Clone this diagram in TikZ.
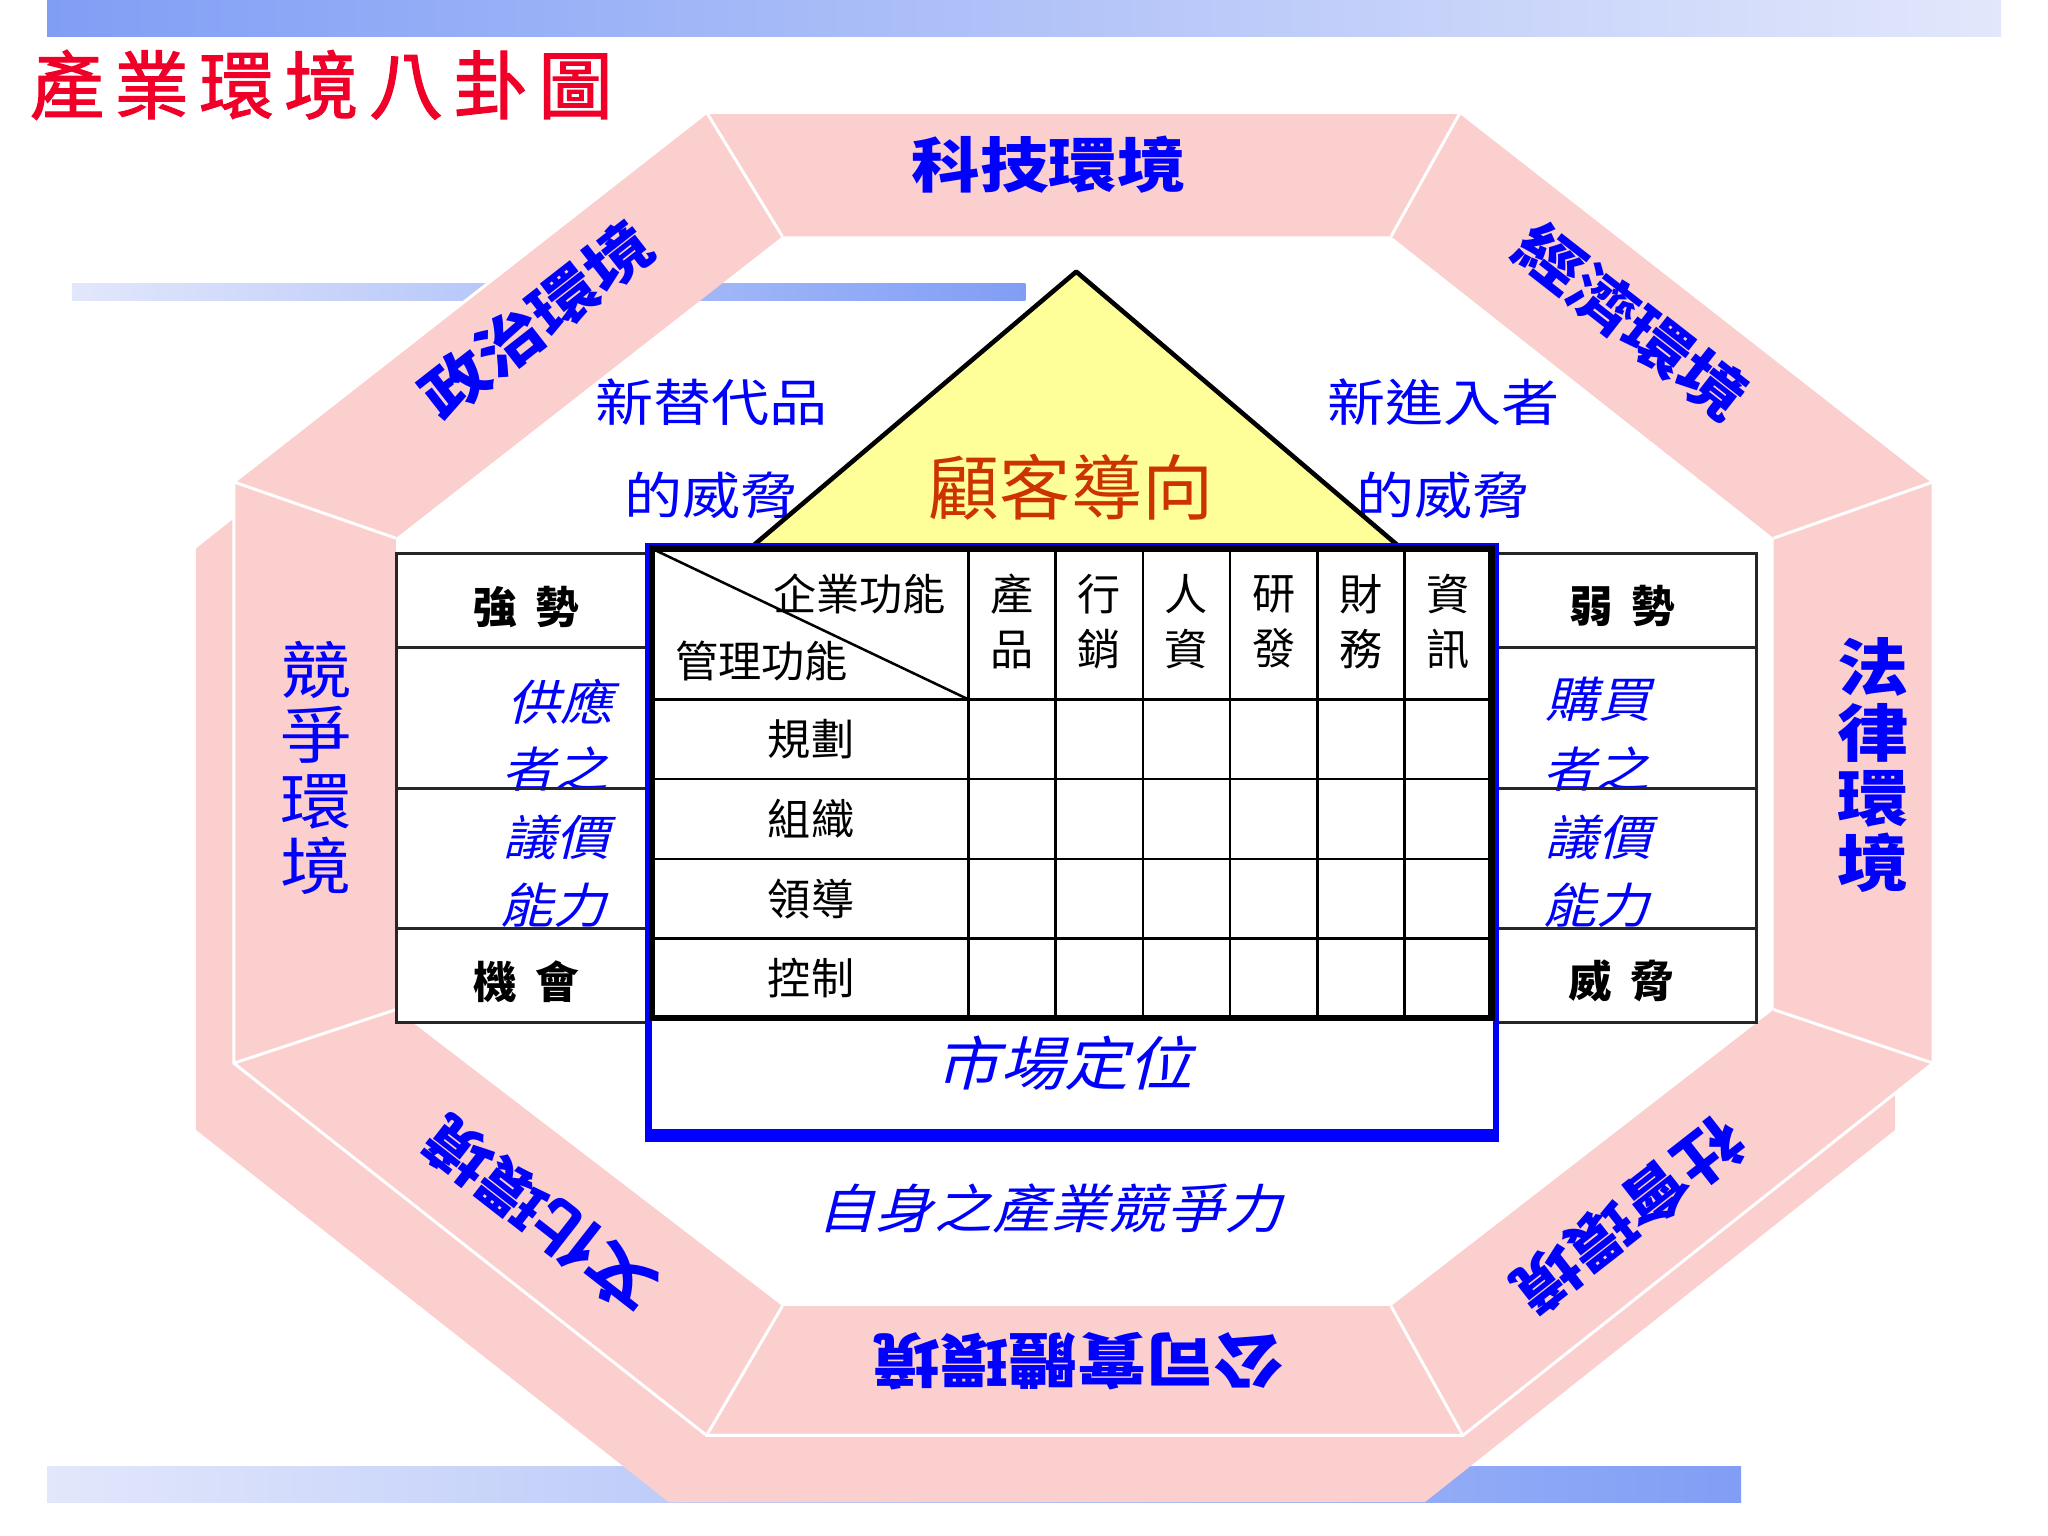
\documentclass[tikz,border=0pt]{standalone}
\usepackage{fontspec}
\setmainfont{Noto Sans CJK TC}
\newfontfamily\widefont[FakeStretch=1.15]{Noto Sans CJK TC}
\newfontfamily\slantfont[FakeSlant=0.25,FakeStretch=1.1]{Noto Sans CJK TC}
\newfontfamily\titlefont[LetterSpace=14,FakeBold=1.6]{Noto Sans CJK TC}
\usetikzlibrary{calc}

\definecolor{segpink}{RGB}{252,207,207}
\definecolor{segblue}{RGB}{0,0,255}
\definecolor{barblue}{RGB}{128,158,245}
\definecolor{barpale}{RGB}{226,231,251}
\definecolor{roofyellow}{RGB}{255,255,153}
\definecolor{titlered}{RGB}{240,0,40}
\definecolor{roofred}{RGB}{204,51,0}

\tikzset{
  seglabel/.style={inner sep=0pt, text=segblue, font=\widefont\bfseries\fontsize{26}{26}\selectfont},
  segcolumn/.style={inner sep=0pt, text=segblue, align=center, font=\widefont\bfseries\fontsize{27}{28.5}\selectfont},
  threat/.style={inner sep=0pt, text=segblue, font=\widefont\fontsize{22}{22}\selectfont},
  cell/.style={inner sep=0pt, align=center, font=\fontsize{18.8}{23.9}\selectfont},
  swot/.style={inner sep=0pt, font=\bfseries\fontsize{19}{19}\selectfont},
  bargain/.style={inner sep=0pt, text=segblue, font=\slantfont\fontsize{21}{21}\selectfont},
  slanted/.style={inner sep=0pt, text=segblue, font=\slantfont\fontsize{25.5}{25.5}\selectfont},
  sepline/.style={white, line width=1.3pt, line join=round},
  gridline/.style={black, line width=1.1pt},
  tableframe/.style={black, line width=2.8pt},
  sideline/.style={black!85, line width=1.3pt},
  roofline/.style={black, line width=2pt, line join=round},
  frameline/.style={segblue, line width=2.8pt}
}

\begin{document}
\begin{tikzpicture}[x=0.02cm, y=-0.02cm]
    \useasboundingbox (0,0) rectangle (1568,1176);

    % bars behind everything
    \shade [left color=barblue, right color=barpale] (36,0) rectangle (1532,28);
    \shade [left color=barpale, right color=barblue] (55,217) rectangle (785,230);
    \shade [left color=barpale, right color=barblue] (36,1123) rectangle (1333,1150);

    \node (title) at (246,65) [inner sep=0pt, text=titlered, font=\titlefont\fontsize{32.4}{32.4}\selectfont] {產業環境八卦圖};

    % octagon, front face
    \coordinate (o1) at (541,86);
    \coordinate (o2) at (1118,86);
    \coordinate (o3) at (1480,369);
    \coordinate (o4) at (1480,814);
    \coordinate (o5) at (1120,1099);
    \coordinate (o6) at (541,1099);
    \coordinate (o7) at (179,814);
    \coordinate (o8) at (179,369);
    \coordinate (i1) at (599,181);
    \coordinate (i2) at (1065,181);
    \coordinate (i3) at (1358,412);
    \coordinate (i4) at (1358,773);
    \coordinate (i5) at (1065,1000);
    \coordinate (i6) at (599,1000);
    \coordinate (i7) at (303,773);
    \coordinate (i8) at (303,412);

    % ring with its depth on the lower left
    \fill [segpink, even odd rule] (o1) -- (o2) -- (o3) -- (o4) -- (1451,837) -- (1451,865)
        -- (1091,1150) -- (512,1150) -- (150,865) -- (150,420) -- (179,397) -- (o8) -- cycle
        (i1) -- (i2) -- (i3) -- (i4) -- (i5) -- (i6) -- (i7) -- (i8) -- cycle;
    \draw [sepline] (o1) -- (o2) -- (o3) -- (o4) -- (o5) -- (o6) -- (o7) -- (o8) -- cycle;
    \foreach \k in {1,...,8}
        \draw [sepline] (o\k) -- (i\k);

    \node (tech) at (803,126) [seglabel] {科技環境};
    \node (econ) at (1249,246) [seglabel, rotate=-38] {經濟環境};
    \node (law) at (1434,586) [segcolumn] {法\\律\\環\\境};
    \node (social) at (1247,931) [seglabel, rotate=218] {社會環境};
    \node (corp) at (825,1042) [seglabel, rotate=180] {公司實體環境};
    \node (culture) at (413,930) [seglabel, rotate=142] {文化環境};
    \node (compete) at (242,588) [segcolumn, font=\widefont\fontsize{27}{28.5}\selectfont] {競\\爭\\環\\境};
    \node (politics) at (411,245) [seglabel, rotate=38] {政治環境};

    \node (subst) at (545,308) [threat] {新替代品};
    \node (substb) at (545,379) [threat] {的威脅};
    \node (entrant) at (1105,308) [threat] {新進入者};
    \node (entrantb) at (1105,379) [threat] {的威脅};

    % roof
    \coordinate (apex) at (824,208);
    \coordinate (eavel) at (574,420);
    \coordinate (eaver) at (1073,420);
    \fill [roofyellow] (eavel) -- (apex) -- (eaver) -- cycle;
    \draw [roofline] (eavel) -- (apex) -- (eaver);
    \node (custorient) at (820,373) [inner sep=0pt, text=roofred, font=\fontsize{31}{31}\selectfont] {顧客導向};

    % SWOT side tables
    \fill [white] (303.6,424) rectangle (497,783);
    \fill [white] (1145,424) rectangle (1344.5,783);
    \node (strength) at (403,465) [swot] {強\hspace{0.42em}勢};
    \node (chance) at (403,752) [swot] {機\hspace{0.42em}會};
    \node (weakness) at (1242,464) [swot] {弱\hspace{0.42em}勢};
    \node (threat) at (1241,751) [swot] {威\hspace{0.42em}脅};
    \node (supa) at (429,537) [bargain] {供應};
    \node (supb) at (425,589) [bargain] {者之};
    \node (supc) at (426,641) [bargain] {議價};
    \node (supd) at (424,693) [bargain] {能力};
    \node (buya) at (1224,535) [bargain] {購買};
    \node (buyb) at (1222,589) [bargain] {者之};
    \node (buyc) at (1224,641) [bargain] {議價};
    \node (buyd) at (1222,693) [bargain] {能力};
    \draw [sideline] (303.6,424) rectangle (497,783);
    \draw [sideline] (1145,424) rectangle (1344.5,783);
    \foreach \y in {496,604,711} {
        \draw [sideline] (303.6,\y) -- (497,\y);
        \draw [sideline] (1145,\y) -- (1344.5,\y);
    }

    % blue frame round the table
    \fill [white] (496.5,418) rectangle (1145.5,867);
    \draw [frameline] (496.5,418) rectangle (1145.5,867);
    \fill [segblue] (494,864) rectangle (1148,874);
    \node (market) at (815,814) [slanted] {市場定位};

    % function table
    \coordinate (tabnw) at (499,420);
    \coordinate (hdrse) at (741.5,535.5);
    \foreach \i in {0,...,5}
        \draw [gridline] ({741.5+\i*66.75},420) -- ({741.5+\i*66.75},779.5);
    \foreach \j in {0,...,3}
        \draw [gridline] (499,{535.5+\j*61}) -- (1142,{535.5+\j*61});
    \draw [gridline] (tabnw) -- (hdrse);
    \draw [tableframe] (tabnw) rectangle (1142,779.5);

    \node (bizfunc) at (658,455) [cell] {企業功能};
    \node (mgtfunc) at (583,506) [cell] {管理功能};
    \foreach \a/\b [count=\k] in {產/品,行/銷,人/資,研/發,財/務,資/訊}
        \node (colhead\k) at ({741.5+(\k-0.5)*66.75},476) [cell] {\a\\\b};
    \foreach \r [count=\j] in {規劃,組織,領導,控制}
        \node (rowhead\j) at (621,{535.5+(\j-0.5)*61}) [cell] {\r};

    \node (ownpower) at (804,925) [slanted, font=\slantfont\fontsize{23}{23}\selectfont] {自身之產業競爭力};

\end{tikzpicture}
\end{document}
